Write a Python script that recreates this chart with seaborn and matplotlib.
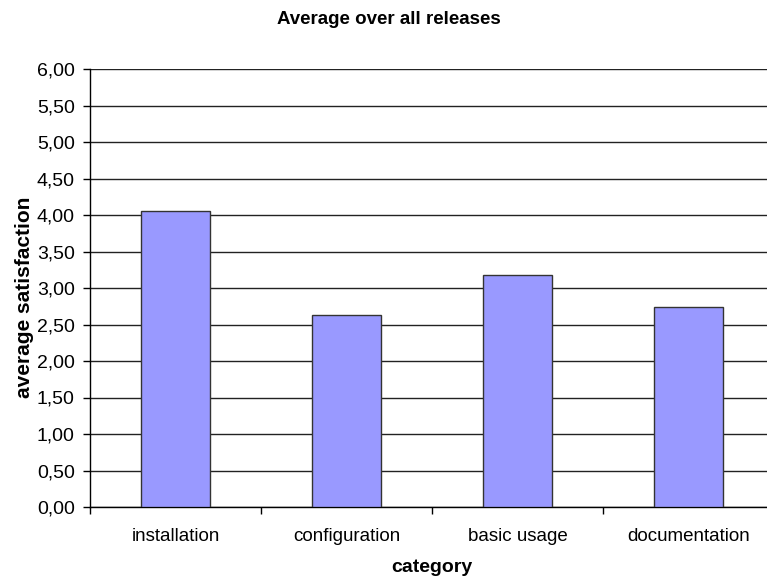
import matplotlib
matplotlib.use("Agg")
import matplotlib.pyplot as plt
from matplotlib.ticker import FuncFormatter, FixedLocator, MultipleLocator
import seaborn as sns
import pandas as pd

categories = ["installation", "configuration", "basic usage", "documentation"]
satisfaction = [4.06, 2.63, 3.18, 2.74]

df = pd.DataFrame({"category": categories, "average satisfaction": satisfaction})

sns.set_style("white")
plt.rcParams["font.family"] = ["Liberation Sans", "DejaVu Sans"]
plt.rcParams["text.color"] = "black"
plt.rcParams["xtick.color"] = "black"
plt.rcParams["ytick.color"] = "black"
plt.rcParams["axes.labelcolor"] = "black"

W, H = 767, 581
fig = plt.figure(figsize=(W / 100, H / 100), dpi=100)
ax = fig.add_axes([90 / W, (H - 507) / H, 684 / W, 438 / H])

sns.barplot(data=df, x="category", y="average satisfaction", ax=ax,
            color="#9999ff", saturation=1, width=0.4,
            edgecolor="#333333", linewidth=1.0, zorder=3)

ax.set_xlim(-0.5, 3.5)
ax.set_ylim(0, 6)
ax.yaxis.set_major_locator(MultipleLocator(0.5))
ax.yaxis.set_major_formatter(FuncFormatter(lambda v, _: f"{v:.2f}".replace(".", ",")))
ax.grid(axis="y", color="#222222", linewidth=1.0, zorder=0)
ax.grid(axis="x", visible=False)

# category labels centred under bars, tick marks between categories
ax.xaxis.set_major_locator(FixedLocator([-0.5, 0.5, 1.5, 2.5]))
ax.xaxis.set_major_formatter(FuncFormatter(lambda v, _: ""))
ax.xaxis.set_minor_locator(FixedLocator(range(len(categories))))
ax.set_xticklabels(categories, minor=True)
ax.tick_params(axis="x", which="major", direction="out", length=5, width=1, color="black", bottom=True)
ax.tick_params(axis="x", which="minor", length=0, pad=15, labelsize=13.5)
ax.tick_params(axis="y", direction="out", length=5, width=1, color="black", left=True, labelsize=14, pad=6)

for side in ("top", "right"):
    ax.spines[side].set_visible(False)
for side in ("left", "bottom"):
    ax.spines[side].set_color("black")
    ax.spines[side].set_linewidth(1.0)

ax.set_xlabel("")
ax.set_ylabel("")
fig.text(432 / W, 1 - 567 / H, "category", ha="center", va="center",
         fontsize=14, fontweight="bold")
fig.text(24 / W, 1 - 297 / H, "average satisfaction", ha="center", va="center",
         rotation=90, fontsize=15, fontweight="bold")
fig.text(389 / W, 1 - 19 / H, "Average over all releases", ha="center", va="center",
         fontsize=13.5, fontweight="bold")

fig.savefig("out.png", dpi=100)
